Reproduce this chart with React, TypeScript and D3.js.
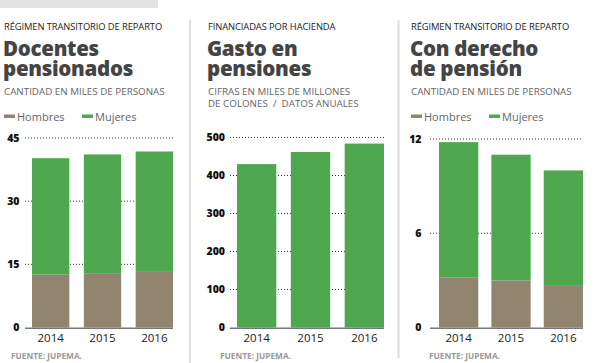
import React from "react";
import * as d3 from "d3";

// datos
const years = ["2014", "2015", "2016"];
const docentesHombres = [12.6, 12.9, 13.2];
const docentesMujeres = [27.6, 28.2, 28.6];
const gastoTotal = [430, 462, 484];
const derechoHombres = [3.2, 3.0, 2.7];
const derechoMujeres = [8.6, 8.0, 7.3];
const docentesTicks = [0, 15, 30, 45];
const gastoTicks = [0, 100, 200, 300, 400, 500];
const derechoTicks = [0, 6, 12];

const GREEN = "#4fa74f";
const BROWN = "#928570";
const FONT = "'Open Sans', sans-serif";

type PanelProps = {
  x0: number;
  kicker: string;
  title: string[];
  subtitle: string[];
  legend: boolean;
  series: number[][];
  colors: string[];
  ticks: number[];
  xRange: [number, number];
  padding: number;
  yTop: number;
  labelRight: number;
  gridStart: number;
  sourceX: number;
};

const Panel = (p: PanelProps) => {
  const base = 327.5;
  const max = p.ticks[p.ticks.length - 1];
  const x = d3.scaleBand<string>().domain(years).range(p.xRange).paddingInner(p.padding).paddingOuter(0);
  const y = d3.scaleLinear().domain([0, max]).range([base, p.yTop]);

  const stackData = years.map((yr, i) => {
    const row: any = { year: yr };
    p.series.forEach((s, k) => (row["s" + k] = s[i]));
    return row;
  });
  const stacked = d3.stack<any>().keys(p.series.map((_, k) => "s" + k))(stackData);

  return (
    <g>
      <text x={p.x0} y={29.5} fontFamily={FONT} fontSize={9.4} fill="#222" letterSpacing={-0.1}>
        {p.kicker}
      </text>
      {p.title.map((t, i) => (
        <text key={t} x={p.x0 - 1} y={56 + i * 19.5} fontFamily={FONT} fontSize={20.5} fontWeight={800} fill="#444" letterSpacing={-0.3}>
          {t}
        </text>
      ))}
      {p.subtitle.map((t, i) => (
        <text key={t} x={p.x0} y={95 + i * 12} fontFamily={FONT} fontSize={9.8} fill="#666" style={{ whiteSpace: "pre" }}>
          {t}
        </text>
      ))}
      {p.legend &&
        [
          { name: "Hombres", color: BROWN, dx: 0 },
          { name: "Mujeres", color: GREEN, dx: 78 },
        ].map((l) => (
          <g key={l.name}>
            <rect x={p.x0 + l.dx} y={114.5} width={11} height={3.5} fill={l.color} />
            <text x={p.x0 + l.dx + 13} y={120.5} fontFamily={FONT} fontSize={11} fill="#666">
              {l.name}
            </text>
          </g>
        ))}

      {p.ticks.map((t) => (
        <g key={t}>
          {t > 0 && (
            <line
              x1={p.gridStart}
              x2={p.xRange[1]}
              y1={y(t)}
              y2={y(t)}
              stroke="#333"
              strokeWidth={1}
              strokeDasharray="1 2"
            />
          )}
          <text
            x={p.labelRight}
            y={y(t)}
            dy="0.36em"
            textAnchor="end"
            fontFamily={FONT}
            fontSize={10.5}
            fontWeight={800}
            fill="#111"
          >
            {t}
          </text>
        </g>
      ))}

      {stacked.map((layer, k) => (
        <g key={k} fill={p.colors[k]}>
          {layer.map((d) => (
            <rect
              key={d.data.year}
              x={x(d.data.year)}
              width={x.bandwidth()}
              y={y(d[1])}
              height={y(d[0]) - y(d[1])}
            />
          ))}
        </g>
      ))}

      <line x1={p.gridStart} x2={p.xRange[1]} y1={base + 0.8} y2={base + 0.8} stroke="#777" strokeWidth={1.6} />

      {years.map((yr) => (
        <text
          key={yr}
          x={(x(yr) as number) + x.bandwidth() / 2}
          y={342}
          textAnchor="middle"
          fontFamily={FONT}
          fontSize={11.5}
          fill="#222"
        >
          {yr}
        </text>
      ))}

      <text x={p.sourceX} y={359} fontFamily={FONT} fontSize={8.3} fontWeight={700} fill="#999">
        FUENTE: JUPEMA.
      </text>
    </g>
  );
};

export default function App() {
  return (
    <svg
      width={596}
      height={363}
      style={{ position: "absolute", left: 0, top: 0, background: "#fff" }}
    >
      <rect x={0} y={0} width={158} height={8} fill="#e3e3e3" />
      <line x1={190} x2={190} y1={20} y2={363} stroke="#ddd" strokeWidth={2} />
      <line x1={398.5} x2={398.5} y1={20} y2={358} stroke="#ddd" strokeWidth={2} />

      <Panel
        x0={4}
        kicker="RÉGIMEN TRANSITORIO DE REPARTO"
        title={["Docentes", "pensionados"]}
        subtitle={["CANTIDAD EN MILES DE PERSONAS"]}
        legend={true}
        series={[docentesHombres, docentesMujeres]}
        colors={[BROWN, GREEN]}
        ticks={docentesTicks}
        xRange={[32, 173]}
        padding={0.28}
        yTop={138}
        labelRight={19.5}
        gridStart={25}
        sourceX={11}
      />
      <Panel
        x0={208}
        kicker="FINANCIADAS POR HACIENDA"
        title={["Gasto en", "pensiones"]}
        subtitle={["CIFRAS EN MILES DE MILLONES", "DE COLONES\u00a0 /\u00a0 DATOS ANUALES"]}
        legend={false}
        series={[gastoTotal]}
        colors={[GREEN]}
        ticks={gastoTicks}
        xRange={[237, 384]}
        padding={0.27}
        yTop={137.5}
        labelRight={225}
        gridStart={230}
        sourceX={220}
      />
      <Panel
        x0={411}
        kicker="RÉGIMEN TRANSITORIO DE REPARTO"
        title={["Con derecho", "de pensión"]}
        subtitle={["CANTIDAD EN MILES DE PERSONAS"]}
        legend={true}
        series={[derechoHombres, derechoMujeres]}
        colors={[BROWN, GREEN]}
        ticks={derechoTicks}
        xRange={[439, 583]}
        padding={0.25}
        yTop={139}
        labelRight={421.5}
        gridStart={430}
        sourceX={429}
      />
    </svg>
  );
}
